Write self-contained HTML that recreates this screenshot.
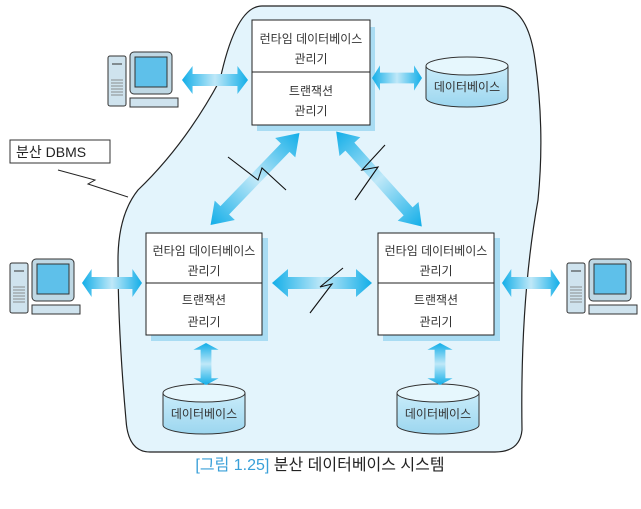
<!DOCTYPE html>
<html><head><meta charset="utf-8"><style>
body{margin:0;background:#fff;}
svg text{font-family:"Liberation Sans","Noto Sans CJK KR",sans-serif;}
</style></head><body>
<svg width="641" height="504" viewBox="0 0 641 504" xmlns="http://www.w3.org/2000/svg">
<defs>
<linearGradient id="ag" x1="0" x2="1" y1="0" y2="0">
<stop offset="0" stop-color="#12aee8"/><stop offset="0.5" stop-color="#bfe8f8"/><stop offset="1" stop-color="#12aee8"/></linearGradient>
<linearGradient id="dbg" x1="0" x2="0" y1="0" y2="1">
<stop offset="0" stop-color="#c9ecfa"/><stop offset="1" stop-color="#9cd6ef"/></linearGradient>
<g id="arr"><polygon points="-50,0 -34,-14 -34,-6 34,-6 34,-14 50,0 34,14 34,6 -34,6 -34,14" fill="url(#ag)"/></g>
<g id="pc">
<rect x="0" y="4" width="18" height="50" rx="2" fill="#cfe3ee" stroke="#333" stroke-width="1"/>
<line x1="4" y1="12" x2="14" y2="12" stroke="#333"/><g stroke="#777" stroke-width="0.8"><line x1="3" y1="28" x2="15" y2="28"/><line x1="3" y1="31" x2="15" y2="31"/><line x1="3" y1="34" x2="15" y2="34"/><line x1="3" y1="37" x2="15" y2="37"/><line x1="3" y1="40" x2="15" y2="40"/><line x1="3" y1="43" x2="15" y2="43"/></g>
<rect x="22" y="0" width="42" height="42" rx="4" fill="#bfd8e4" stroke="#333"/>
<rect x="27" y="5" width="32" height="30" fill="#5ec0ea" stroke="#333"/>
<rect x="22" y="46" width="48" height="9" fill="#cfe3ee" stroke="#333"/>
</g>
<g id="db">
<path d="M0,10 L0,42 A41,9 0 0 0 82,42 L82,10" fill="url(#dbg)" stroke="#333"/>
<ellipse cx="41" cy="10" rx="41" ry="9" fill="#e6f7fd" stroke="#333"/>
<text x="41" y="35" font-size="12" text-anchor="middle" fill="#333">데이터베이스</text>
</g>
</defs>
<path d="M262,6 L500,6 Q528,8 535,60 Q545,130 538,200 Q520,300 522,430 Q520,452 495,452 L150,452 Q128,452 126,420 Q118,330 118,260 Q118,215 138,190 Q185,145 220,80 Q236,6 262,6 Z" fill="#e3f4fc" stroke="#222" stroke-width="1.2"/>
<rect x="10" y="140" width="100" height="23" fill="#fff" stroke="#333"/>
<text x="16" y="157" font-size="14" fill="#222">분산 DBMS</text>
<polyline points="58,170 95,180 88,184 128,197" fill="none" stroke="#222"/>
<g font-size="12" fill="#333" text-anchor="middle">
<rect x="257" y="27" width="118" height="104" fill="#a9dcf3"/>
<rect x="252" y="20" width="118" height="105" fill="#fff" stroke="#222"/>
<line x1="252" y1="72" x2="370" y2="72" stroke="#222"/>
<text x="311" y="43">런타임 데이터베이스</text><text x="311" y="63">관리기</text>
<text x="311" y="95">트랜잭션</text><text x="311" y="115">관리기</text>
<rect x="151" y="238" width="117" height="103" fill="#a9dcf3"/>
<rect x="146" y="233" width="116" height="102" fill="#fff" stroke="#222"/>
<line x1="146" y1="283" x2="262" y2="283" stroke="#222"/>
<text x="204" y="255">런타임 데이터베이스</text><text x="204" y="275">관리기</text>
<text x="204" y="304">트랜잭션</text><text x="204" y="326">관리기</text>
<rect x="383" y="238" width="117" height="103" fill="#a9dcf3"/>
<rect x="378" y="233" width="116" height="102" fill="#fff" stroke="#222"/>
<line x1="378" y1="283" x2="494" y2="283" stroke="#222"/>
<text x="436" y="255">런타임 데이터베이스</text><text x="436" y="275">관리기</text>
<text x="436" y="304">트랜잭션</text><text x="436" y="326">관리기</text>
</g>
<use href="#db" x="426" y="56"/>
<use href="#db" x="163" y="383"/>
<use href="#db" x="397" y="383"/>
<use href="#pc" x="108" y="52"/>
<use href="#pc" x="10" y="259"/>
<use href="#pc" x="567" y="259"/>
<use href="#arr" transform="translate(215,80) scale(0.66,1)"/>
<use href="#arr" transform="translate(397,78) scale(0.5,0.9)"/>
<use href="#arr" transform="translate(112,283) scale(0.6,1)"/>
<use href="#arr" transform="translate(322,283) scale(1,1)"/>
<use href="#arr" transform="translate(531,283) scale(0.58,1)"/>
<use href="#arr" transform="translate(206,364) rotate(90) scale(0.42,0.9)"/>
<use href="#arr" transform="translate(440,364) rotate(90) scale(0.42,0.9)"/>
<use href="#arr" transform="translate(255,179) rotate(134) scale(1.28,1)"/>
<use href="#arr" transform="translate(379,179) rotate(48) scale(1.28,1)"/>
<g fill="none" stroke="#111" stroke-width="1.1">
<polyline points="228,157 258,180 262,168 286,190"/>
<polyline points="385,145 362,170 378,167 355,200"/>
<polyline points="343,268 320,287 332,284 310,313"/>
</g>
<text x="320" y="470" font-size="16" text-anchor="middle"><tspan fill="#3aa0d8">[그림 1.25]</tspan><tspan fill="#222"> 분산 데이터베이스 시스템</tspan></text>
</svg>
</body></html>
